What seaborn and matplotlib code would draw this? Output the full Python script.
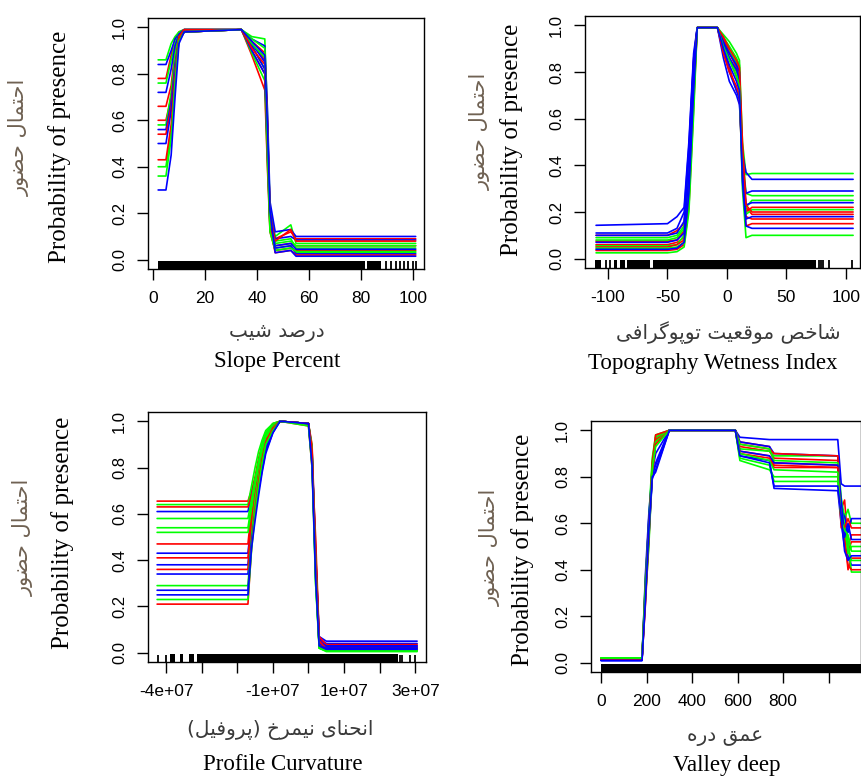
import matplotlib
matplotlib.use("Agg")
import matplotlib.pyplot as plt
import pandas as pd
import seaborn as sns

W, H = 862, 776
RED, GREEN, BLUE = "#FF0000", "#00FF00", "#0000FF"

# shared y axis
y_ticks = [0.0, 0.2, 0.4, 0.6, 0.8, 1.0]
y_ticklabels = ["0.0", "0.2", "0.4", "0.6", "0.8", "1.0"]

# ---- panel 1: Slope Percent
slope_x = [2, 5, 7, 8.5, 10, 12, 34, 38, 43, 44, 45, 47, 53, 55, 101]
slope_red = [
    [0.78, 0.78, 0.88, 0.95, 0.98, 0.99, 0.99, 0.93, 0.86, 0.55, 0.18, 0.09, 0.12, 0.09, 0.09],
    [0.66, 0.66, 0.75, 0.90, 0.96, 0.98, 0.99, 0.90, 0.80, 0.50, 0.15, 0.06, 0.07, 0.06, 0.06],
    [0.60, 0.60, 0.70, 0.85, 0.95, 0.98, 0.99, 0.88, 0.73, 0.40, 0.12, 0.04, 0.05, 0.04, 0.04],
    [0.54, 0.54, 0.66, 0.82, 0.96, 0.99, 0.99, 0.94, 0.89, 0.60, 0.20, 0.08, 0.13, 0.08, 0.08],
    [0.43, 0.43, 0.58, 0.78, 0.95, 0.98, 0.99, 0.91, 0.84, 0.45, 0.14, 0.03, 0.04, 0.02, 0.02],
]
slope_green = [
    [0.86, 0.86, 0.93, 0.96, 0.98, 0.99, 0.99, 0.96, 0.95, 0.62, 0.22, 0.10, 0.15, 0.07, 0.07],
    [0.76, 0.76, 0.86, 0.93, 0.97, 0.99, 0.99, 0.92, 0.82, 0.50, 0.16, 0.08, 0.09, 0.05, 0.05],
    [0.58, 0.58, 0.72, 0.88, 0.96, 0.98, 0.99, 0.89, 0.77, 0.42, 0.13, 0.07, 0.08, 0.06, 0.06],
    [0.40, 0.40, 0.55, 0.80, 0.95, 0.98, 0.99, 0.93, 0.87, 0.55, 0.18, 0.05, 0.06, 0.03, 0.03],
    [0.36, 0.36, 0.52, 0.76, 0.94, 0.98, 0.99, 0.95, 0.91, 0.48, 0.12, 0.04, 0.05, 0.035, 0.035],
]
slope_blue = [
    [0.84, 0.84, 0.90, 0.95, 0.97, 0.99, 0.99, 0.95, 0.92, 0.65, 0.25, 0.12, 0.13, 0.10, 0.10],
    [0.72, 0.72, 0.82, 0.92, 0.97, 0.99, 0.99, 0.93, 0.85, 0.58, 0.20, 0.09, 0.10, 0.085, 0.085],
    [0.56, 0.56, 0.68, 0.84, 0.95, 0.98, 0.99, 0.92, 0.82, 0.52, 0.17, 0.06, 0.07, 0.045, 0.045],
    [0.50, 0.50, 0.64, 0.80, 0.94, 0.98, 0.99, 0.90, 0.80, 0.47, 0.15, 0.05, 0.06, 0.025, 0.025],
    [0.30, 0.30, 0.45, 0.70, 0.93, 0.98, 0.99, 0.94, 0.88, 0.58, 0.21, 0.03, 0.04, 0.015, 0.015],
]
slope_rug_spans = [(2, 81.5), (82.2, 87.6)]
slope_rug_ticks = [89.6, 91.7, 93.6, 95.0, 96.5, 97.9, 100.1, 101.0]
slope_xticks = [0, 20, 40, 60, 80, 100]
slope_xticklabels = ["0", "20", "40", "60", "80", "100"]

# ---- panel 2: Topography Wetness Index
twi_x = [-110, -50, -42, -36, -32, -28, -25, -8, -3, 2, 8, 10.5, 13, 16, 21, 106]
twi_red = [
    [0.10, 0.10, 0.12, 0.15, 0.45, 0.85, 0.99, 0.99, 0.90, 0.82, 0.72, 0.70, 0.40, 0.22, 0.19, 0.19],
    [0.075, 0.075, 0.08, 0.12, 0.40, 0.80, 0.99, 0.99, 0.93, 0.86, 0.78, 0.75, 0.45, 0.20, 0.22, 0.22],
    [0.06, 0.06, 0.07, 0.09, 0.30, 0.75, 0.99, 0.99, 0.94, 0.88, 0.82, 0.78, 0.38, 0.18, 0.17, 0.17],
    [0.05, 0.05, 0.06, 0.08, 0.25, 0.70, 0.99, 0.99, 0.88, 0.80, 0.74, 0.70, 0.35, 0.14, 0.15, 0.15],
    [0.035, 0.035, 0.04, 0.06, 0.22, 0.65, 0.99, 0.99, 0.95, 0.90, 0.85, 0.82, 0.50, 0.23, 0.20, 0.20],
]
twi_green = [
    [0.09, 0.09, 0.10, 0.14, 0.42, 0.82, 0.99, 0.99, 0.96, 0.93, 0.88, 0.85, 0.50, 0.36, 0.365, 0.365],
    [0.08, 0.08, 0.09, 0.13, 0.38, 0.78, 0.99, 0.99, 0.94, 0.89, 0.84, 0.80, 0.45, 0.28, 0.27, 0.27],
    [0.055, 0.055, 0.06, 0.10, 0.32, 0.74, 0.99, 0.99, 0.92, 0.86, 0.80, 0.76, 0.40, 0.22, 0.25, 0.25],
    [0.045, 0.045, 0.05, 0.07, 0.26, 0.68, 0.99, 0.99, 0.95, 0.91, 0.86, 0.83, 0.36, 0.19, 0.21, 0.21],
    [0.025, 0.025, 0.03, 0.05, 0.20, 0.62, 0.99, 0.99, 0.91, 0.85, 0.78, 0.74, 0.30, 0.09, 0.10, 0.10],
]
twi_blue = [
    [0.143, 0.15, 0.18, 0.22, 0.50, 0.88, 0.99, 0.99, 0.86, 0.76, 0.70, 0.66, 0.45, 0.37, 0.34, 0.34],
    [0.11, 0.11, 0.13, 0.20, 0.48, 0.86, 0.99, 0.99, 0.89, 0.80, 0.72, 0.68, 0.40, 0.28, 0.29, 0.29],
    [0.10, 0.10, 0.11, 0.16, 0.44, 0.84, 0.99, 0.99, 0.92, 0.86, 0.81, 0.77, 0.42, 0.23, 0.24, 0.24],
    [0.07, 0.07, 0.08, 0.11, 0.36, 0.78, 0.99, 0.99, 0.93, 0.88, 0.83, 0.80, 0.38, 0.17, 0.18, 0.18],
    [0.04, 0.04, 0.045, 0.07, 0.28, 0.72, 0.99, 0.99, 0.90, 0.83, 0.76, 0.72, 0.33, 0.14, 0.13, 0.13],
]
twi_rug_spans = [(-111, -106), (-95, -92), (-90, -86), (-84, -65), (-62, 75)]
twi_rug_ticks = [-102, -98, -88, 77, 79, 81, 86, 105]
twi_xticks = [-100, -50, 0, 50, 100]
twi_xticklabels = ["-100", "-50", "0", "50", "100"]

# ---- panel 3: Profile Curvature
prof_x = [-4.25e7, -1.7e7, -1.6e7, -1.5e7, -1.4e7, -1.3e7, -1.2e7, -1.0e7,
          -0.8e7, 0.0, 0.1e7, 0.2e7, 0.3e7, 0.5e7, 3.05e7]
prof_red = [
    [0.655, 0.655, 0.70, 0.76, 0.84, 0.90, 0.95, 0.99, 1.0, 0.99, 0.90, 0.45, 0.06, 0.03, 0.03],
    [0.63, 0.63, 0.68, 0.74, 0.82, 0.88, 0.94, 0.98, 1.0, 0.99, 0.86, 0.40, 0.05, 0.025, 0.025],
    [0.47, 0.47, 0.62, 0.72, 0.80, 0.87, 0.93, 0.98, 1.0, 0.99, 0.82, 0.50, 0.07, 0.035, 0.035],
    [0.41, 0.41, 0.58, 0.70, 0.78, 0.86, 0.93, 0.98, 1.0, 0.98, 0.80, 0.38, 0.04, 0.02, 0.02],
    [0.36, 0.36, 0.55, 0.68, 0.77, 0.85, 0.92, 0.97, 1.0, 0.99, 0.85, 0.42, 0.05, 0.018, 0.018],
    [0.21, 0.21, 0.45, 0.62, 0.74, 0.84, 0.91, 0.97, 1.0, 0.99, 0.88, 0.35, 0.03, 0.012, 0.012],
]
prof_green = [
    [0.64, 0.64, 0.72, 0.80, 0.87, 0.92, 0.96, 0.99, 1.0, 0.99, 0.87, 0.30, 0.04, 0.02, 0.02],
    [0.58, 0.58, 0.66, 0.75, 0.83, 0.90, 0.95, 0.98, 1.0, 0.99, 0.84, 0.36, 0.03, 0.01, 0.01],
    [0.54, 0.54, 0.64, 0.73, 0.82, 0.89, 0.95, 0.99, 1.0, 0.99, 0.86, 0.40, 0.02, 0.008, 0.008],
    [0.52, 0.52, 0.62, 0.71, 0.80, 0.88, 0.94, 0.98, 1.0, 0.99, 0.89, 0.33, 0.02, 0.005, 0.005],
    [0.29, 0.29, 0.50, 0.66, 0.76, 0.86, 0.93, 0.97, 1.0, 0.99, 0.83, 0.38, 0.03, 0.015, 0.015],
    [0.23, 0.23, 0.44, 0.60, 0.72, 0.82, 0.90, 0.96, 1.0, 0.98, 0.80, 0.30, 0.02, 0.01, 0.01],
]
prof_blue = [
    [0.61, 0.61, 0.68, 0.74, 0.81, 0.87, 0.92, 0.98, 1.0, 0.99, 0.88, 0.42, 0.07, 0.05, 0.05],
    [0.43, 0.43, 0.58, 0.68, 0.76, 0.83, 0.90, 0.97, 1.0, 0.99, 0.86, 0.44, 0.06, 0.04, 0.04],
    [0.38, 0.38, 0.55, 0.65, 0.73, 0.81, 0.88, 0.96, 1.0, 0.99, 0.85, 0.40, 0.05, 0.03, 0.03],
    [0.34, 0.34, 0.52, 0.63, 0.72, 0.80, 0.88, 0.96, 1.0, 0.99, 0.84, 0.37, 0.04, 0.025, 0.025],
    [0.27, 0.27, 0.48, 0.60, 0.70, 0.79, 0.87, 0.95, 1.0, 0.99, 0.82, 0.34, 0.03, 0.02, 0.02],
    [0.25, 0.25, 0.45, 0.57, 0.68, 0.78, 0.86, 0.95, 1.0, 0.99, 0.81, 0.32, 0.03, 0.015, 0.015],
]
prof_rug_spans = [(-3.88e7, -3.76e7), (-3.62e7, -3.52e7), (-3.35e7, -3.22e7), (-3.14e7, 2.52e7)]
prof_rug_ticks = [-4.22e7, -4.0e7, 2.58e7, 2.62e7, 2.85e7, 3.0e7]
prof_xticks = [-4e7, -3e7, -2e7, -1e7, 0, 1e7, 2e7, 3e7]
prof_xticklabels = ["-4e+07", "", "", "-1e+07", "", "1e+07", "", "3e+07"]

# ---- panel 4: Valley deep
valley_x = [0, 180, 195, 210, 225, 240, 300, 590, 610, 740, 760, 1040,
            1055, 1070, 1085, 1100, 1140]
valley_red = [
    [0.015, 0.015, 0.30, 0.58, 0.84, 0.97, 1.0, 1.0, 0.93, 0.91, 0.88, 0.87, 0.66, 0.70, 0.50, 0.55, 0.55],
    [0.015, 0.015, 0.35, 0.60, 0.80, 0.95, 1.0, 1.0, 0.95, 0.93, 0.86, 0.85, 0.62, 0.55, 0.40, 0.45, 0.45],
    [0.015, 0.015, 0.25, 0.52, 0.82, 0.96, 1.0, 1.0, 0.91, 0.89, 0.85, 0.84, 0.58, 0.60, 0.48, 0.52, 0.52],
    [0.015, 0.015, 0.32, 0.56, 0.86, 0.98, 1.0, 1.0, 0.94, 0.92, 0.90, 0.89, 0.64, 0.52, 0.42, 0.40, 0.40],
    [0.015, 0.015, 0.28, 0.54, 0.83, 0.94, 1.0, 1.0, 0.90, 0.88, 0.84, 0.84, 0.60, 0.58, 0.62, 0.58, 0.58],
]
valley_green = [
    [0.02, 0.02, 0.33, 0.62, 0.88, 0.98, 1.0, 1.0, 0.92, 0.91, 0.89, 0.89, 0.71, 0.62, 0.66, 0.60, 0.60],
    [0.02, 0.02, 0.30, 0.58, 0.85, 0.96, 1.0, 1.0, 0.87, 0.83, 0.80, 0.80, 0.66, 0.56, 0.50, 0.44, 0.44],
    [0.02, 0.02, 0.36, 0.60, 0.86, 0.97, 1.0, 1.0, 0.88, 0.85, 0.78, 0.78, 0.63, 0.64, 0.52, 0.39, 0.39],
    [0.02, 0.02, 0.28, 0.50, 0.82, 0.95, 1.0, 1.0, 0.94, 0.92, 0.87, 0.86, 0.68, 0.59, 0.47, 0.50, 0.50],
    [0.02, 0.02, 0.32, 0.55, 0.84, 0.93, 1.0, 1.0, 0.90, 0.87, 0.83, 0.82, 0.61, 0.57, 0.55, 0.48, 0.48],
]
valley_blue = [
    [0.01, 0.01, 0.38, 0.64, 0.82, 0.90, 1.0, 1.0, 0.97, 0.96, 0.96, 0.96, 0.77, 0.76, 0.76, 0.76, 0.76],
    [0.01, 0.01, 0.26, 0.56, 0.80, 0.86, 1.0, 1.0, 0.89, 0.87, 0.75, 0.74, 0.60, 0.50, 0.46, 0.42, 0.42],
    [0.01, 0.01, 0.34, 0.62, 0.81, 0.85, 1.0, 1.0, 0.95, 0.93, 0.90, 0.89, 0.65, 0.63, 0.56, 0.62, 0.62],
    [0.01, 0.01, 0.30, 0.54, 0.79, 0.83, 1.0, 1.0, 0.91, 0.89, 0.86, 0.85, 0.70, 0.54, 0.60, 0.53, 0.53],
    [0.01, 0.01, 0.27, 0.57, 0.80, 0.82, 1.0, 1.0, 0.89, 0.86, 0.76, 0.76, 0.63, 0.48, 0.44, 0.46, 0.46],
]
valley_rug_spans = [(0, 1140)]
valley_rug_ticks = []
valley_xticks = [0, 200, 400, 600, 800, 1000]
valley_xticklabels = ["0", "200", "400", "600", "800", ""]

# labels (Persian written in shaped presentation forms, visual order)
fa_ylabel = "\uFEAD\uFEEE\uFEC0\uFEA3 \uFEDD\uFE8E\uFEE4\uFE98\uFEA3\uFE8D"  # احتمال حضور
en_ylabel = "Probability of presence"
fa_slope = "\uFE90\uFBFF\uFEB7 \uFEAA\uFEBB\uFEAD\uFEA9"  # درصد شیب
fa_twi = ("\uFBFD\uFED3\uFE8D\uFEAE\uFB94\uFEEE\uFB58\uFEEE\uFE97 "
          "\uFE96\uFBFF\uFECC\uFED7\uFEEE\uFEE3 \uFEBA\uFEA7\uFE8E\uFEB7")  # شاخص موقعیت توپوگرافی
fa_prof = ("(\uFEDE\uFBFF\uFED3\uFEED\uFEAE\uFB58) \uFEA5\uFEAE\uFEE4\uFBFF\uFEE7 "
           "\uFBFC\uFE8E\uFEE8\uFEA4\uFEE7\uFE8D")  # انحنای نیمرخ (پروفیل)
fa_valley = "\uFEE9\uFEAD\uFEA9 \uFED6\uFEE4\uFECB"  # عمق دره

sns.set_style("ticks")
plt.rcParams["font.family"] = ["Liberation Sans", "DejaVu Sans"]
plt.rcParams["axes.linewidth"] = 1.0

fig = plt.figure(figsize=(W / 100, H / 100), dpi=100)


def long_frame(x, red, green, blue):
    # one row per point, curves interleaved red/green/blue like the original
    parts, pal = [], {}
    k = 0
    for i in range(max(len(red), len(green), len(blue))):
        for col, group in ((RED, red), (GREEN, green), (BLUE, blue)):
            if i < len(group):
                name = f"c{k}"
                pal[name] = col
                parts.append(pd.DataFrame({"x": x, "y": group[i], "curve": name}))
                k += 1
    return pd.concat(parts, ignore_index=True), pal


def draw_panel(box, x, red, green, blue, spans, ticks, xlim, xticks, xticklabels,
               fa_x, en_x, pos):
    left, top, right, bottom = box
    ax = fig.add_axes([left / W, 1 - bottom / H, (right - left) / W, (bottom - top) / H])
    df, pal = long_frame(x, red, green, blue)
    sns.lineplot(data=df, x="x", y="y", hue="curve", palette=pal, estimator=None,
                 errorbar=None, lw=1.2, legend=False, ax=ax)
    # rug of observations
    for a, b in spans:
        ax.fill_between([a, b], 0, 0.03, transform=ax.get_xaxis_transform(),
                        color="black", lw=0)
    if ticks:
        sns.rugplot(x=ticks, height=0.03, color="black", linewidth=1.3, ax=ax)

    ax.set_xlim(*xlim)
    ax.set_ylim(-0.04, 1.04)
    ax.set_xticks(xticks)
    ax.set_xticklabels(xticklabels)
    ax.set_yticks(y_ticks)
    ax.set_yticklabels(y_ticklabels, rotation=90, va="center")
    ax.set_xlabel("")
    ax.set_ylabel("")
    for s in ax.spines.values():
        s.set_visible(True)
        s.set_color("black")
    ax.tick_params(axis="both", direction="out", length=8, width=1, colors="black")
    ax.tick_params(axis="x", labelsize=12.5, pad=8)
    ax.tick_params(axis="y", labelsize=12, pad=7)

    # axis titles
    (yfa, yen, xfa, xen) = pos
    fig.text(yfa[0] / W, 1 - yfa[1] / H, fa_ylabel, rotation=90, ha="center", va="center",
             family="DejaVu Sans", fontsize=15, color="#6f6152")
    fig.text(yen[0] / W, 1 - yen[1] / H, en_ylabel, rotation=90, ha="center", va="center",
             family="Liberation Serif", fontsize=18, color="black")
    fig.text(xfa[0] / W, 1 - xfa[1] / H, fa_x, ha="center", va="center",
             family="DejaVu Sans", fontsize=14.5, color="#3a3a3a")
    fig.text(xen[0] / W, 1 - xen[1] / H, en_x, ha="center", va="center",
             family="Liberation Serif", fontsize=16.5, color="black")
    return ax


draw_panel((148, 18, 424, 269), slope_x, slope_red, slope_green, slope_blue,
           slope_rug_spans, slope_rug_ticks, (-1.9, 104.2), slope_xticks, slope_xticklabels,
           fa_slope, "Slope Percent",
           ((19, 137), (60, 147), (277, 333), (277, 362)))
draw_panel((585, 16, 860, 268), twi_x, twi_red, twi_green, twi_blue,
           twi_rug_spans, twi_rug_ticks, (-119.3, 111.8), twi_xticks, twi_xticklabels,
           fa_twi, "Topography Wetness Index",
           ((480, 131), (512, 140), (728, 333), (713, 363)))
draw_panel((148, 412, 426, 662), prof_x, prof_red, prof_green, prof_blue,
           prof_rug_spans, prof_rug_ticks, (-4.506e7, 3.30e7), prof_xticks, prof_xticklabels,
           fa_prof, "Profile Curvature",
           ((23, 537), (63, 533), (280, 730), (283, 765)))
draw_panel((591, 421, 861, 672), valley_x, valley_red, valley_green, valley_blue,
           valley_rug_spans, valley_rug_ticks, (-44, 1142), valley_xticks, valley_xticklabels,
           fa_valley, "Valley deep",
           ((490, 547), (523, 550), (725, 737), (727, 765)))

fig.savefig("out.png", dpi=100)
